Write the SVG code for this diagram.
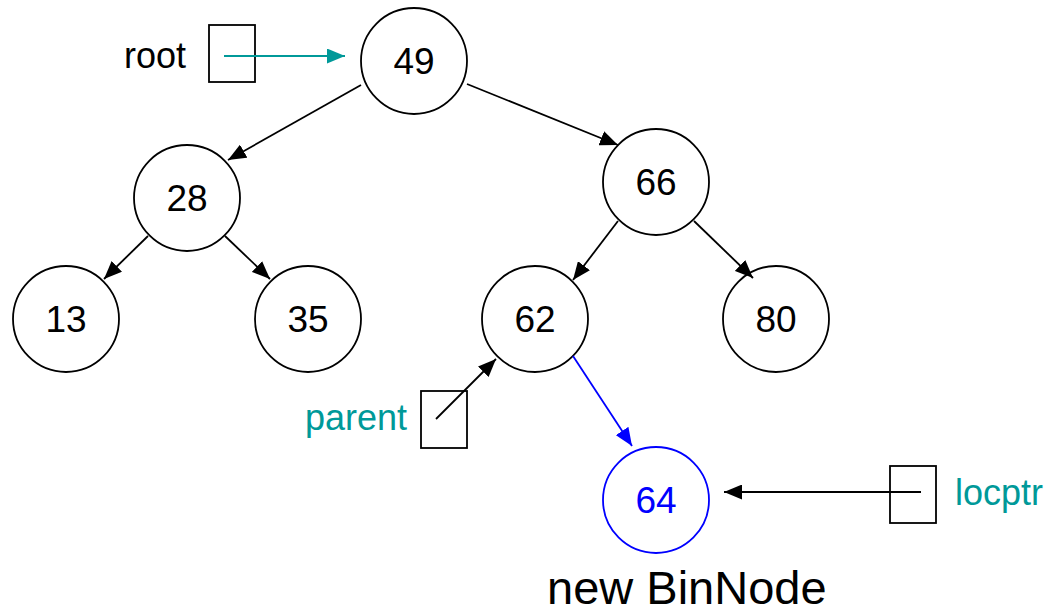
<svg xmlns="http://www.w3.org/2000/svg" width="1048" height="614" viewBox="0 0 1048 614">
  <style>
    .node { fill: #ffffff; stroke: #000000; stroke-width: 1.8; }
    .node.new { stroke: #0000ff; }
    .val { font-family: "Liberation Sans", Arial, sans-serif; font-size: 37px; fill: #000000; text-anchor: middle; }
    .val.new { fill: #0000ff; }
    .lbl { font-family: "Liberation Sans", Arial, sans-serif; font-size: 36px; }
    .caption { font-family: "Liberation Sans", Arial, sans-serif; font-size: 47px; }
    .teal { fill: #009999; }
    .ptr { fill: #ffffff; stroke: #000000; stroke-width: 1.8; }
    .edge { stroke: #000000; stroke-width: 1.8; fill: none; marker-end: url(#arrow); }
    .edge.blue { stroke: #0000ff; marker-end: url(#arrowBlue); }
    .edge.teal { stroke: #009999; marker-end: url(#arrowTeal); }
  </style>
  <defs>
    <marker id="arrow" markerUnits="userSpaceOnUse" markerWidth="19" markerHeight="15" refX="18" refY="7.5" orient="auto">
      <path d="M0,0 L18,7.5 L0,15 z" fill="#000000"/>
    </marker>
    <marker id="arrowBlue" markerUnits="userSpaceOnUse" markerWidth="19" markerHeight="15" refX="18" refY="7.5" orient="auto">
      <path d="M0,0 L18,7.5 L0,15 z" fill="#0000ff"/>
    </marker>
    <marker id="arrowTeal" markerUnits="userSpaceOnUse" markerWidth="19" markerHeight="15" refX="18" refY="7.5" orient="auto">
      <path d="M0,0 L18,7.5 L0,15 z" fill="#009999"/>
    </marker>
  </defs>

  <rect width="1048" height="614" fill="#ffffff"/>

  <!-- pointer variables -->
  <g id="root">
    <text class="lbl" x="124" y="68">root</text>
    <rect class="ptr" x="209" y="25" width="46" height="57"/>
  </g>
  <g id="parent">
    <text class="lbl teal" x="305" y="430">parent</text>
    <rect class="ptr" x="421" y="391" width="46" height="57"/>
  </g>
  <g id="locptr">
    <rect class="ptr" x="890" y="466" width="46" height="57"/>
    <text class="lbl teal" x="955" y="505">locptr</text>
  </g>

  <!-- tree nodes -->
  <g id="n49">
    <circle class="node" cx="414" cy="61" r="53"/>
    <text class="val" x="414" y="74">49</text>
  </g>
  <g id="n28">
    <circle class="node" cx="187" cy="198" r="53"/>
    <text class="val" x="187" y="211">28</text>
  </g>
  <g id="n66">
    <circle class="node" cx="656" cy="182" r="53"/>
    <text class="val" x="656" y="195">66</text>
  </g>
  <g id="n13">
    <circle class="node" cx="66" cy="319" r="53"/>
    <text class="val" x="66" y="332">13</text>
  </g>
  <g id="n35">
    <circle class="node" cx="308" cy="319" r="53"/>
    <text class="val" x="308" y="332">35</text>
  </g>
  <g id="n62">
    <circle class="node" cx="535" cy="319" r="53"/>
    <text class="val" x="535" y="332">62</text>
  </g>
  <g id="n80">
    <circle class="node" cx="776" cy="319" r="53"/>
    <text class="val" x="776" y="332">80</text>
  </g>
  <g id="n64">
    <circle class="node new" cx="656" cy="500" r="53"/>
    <text class="val new" x="656" y="513">64</text>
    <text class="caption" x="547" y="604">new BinNode</text>
  </g>

  <!-- connectors -->
  <g id="connectors">
    <line class="edge teal" x1="224" y1="56" x2="345" y2="56"/>
    <line class="edge" x1="361" y1="85" x2="228" y2="160"/>
    <line class="edge" x1="467" y1="84" x2="618" y2="145"/>
    <line class="edge" x1="148" y1="236" x2="104" y2="279"/>
    <line class="edge" x1="225" y1="236" x2="270" y2="279"/>
    <line class="edge" x1="618" y1="221" x2="573" y2="280"/>
    <line class="edge" x1="694" y1="221" x2="753" y2="278"/>
    <line class="edge blue" x1="573" y1="356" x2="632" y2="446"/>
    <line class="edge" x1="436" y1="419" x2="496" y2="359"/>
    <line class="edge" x1="921" y1="492" x2="724" y2="492"/>
  </g>
</svg>
